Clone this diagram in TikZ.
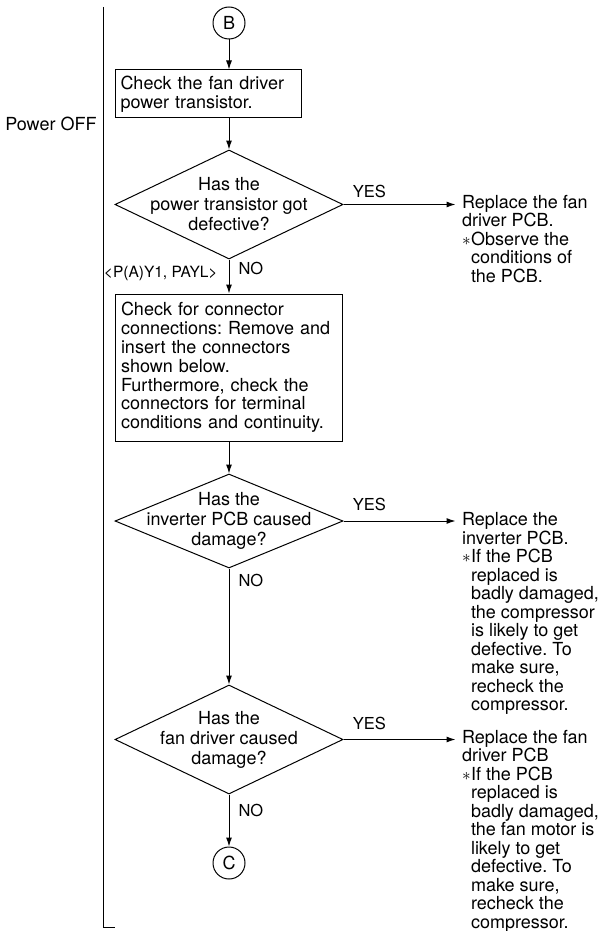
\documentclass[tikz,border=0pt]{standalone}
\usepackage{fontspec}
\setmainfont{TeX Gyre Heros}
\usepackage{tikz}
\usetikzlibrary{arrows.meta,positioning,shapes.geometric}
\newcommand{\astmark}{\makebox[9pt][l]{\fontsize{18}{18}\selectfont$\ast$}}
\newcommand{\indt}{\hspace*{9pt}}
\frenchspacing

\begin{document}
\begin{tikzpicture}[x=1pt,y=-1pt,line width=1pt,
  every node/.style={font=\fontsize{18}{18.8}\selectfont},
  conn/.style={draw,circle,minimum size=32pt,inner sep=0pt},
  box/.style={draw,align=left,inner xsep=5.5pt,inner ysep=0pt},
  decision/.style={draw,diamond,inner sep=0pt,minimum width=228pt},
  qtext/.style={align=center,inner sep=0pt,font=\fontsize{18}{20}\selectfont},
  lbl/.style={font=\fontsize{16.5}{17}\selectfont,inner sep=0pt},
  model/.style={font=\fontsize{15.5}{16}\selectfont,inner sep=0pt},
  note/.style={align=left,inner xsep=6pt,inner ysep=0pt,font=\fontsize{18}{18.5}\selectfont},
  arr/.style={-{Latex[length=9pt,width=6pt]}}]
\useasboundingbox (0,0) rectangle (603,931);
% power off bracket
\coordinate (top) at (103,7);
\coordinate (bot) at (103,927);
\draw (top) -- (bot) -- ++(12,0);
\node[anchor=east,inner sep=0pt] (poff) at (97,124) {Power OFF};
% main flow
\node[conn] (B) at (229,23) {B};
\node[box,text width=175pt,minimum height=48pt,below=30pt of B,xshift=-21pt] (b1) {Check the fan driver\\power transistor.};
\node[decision,minimum height=109pt,below=31pt of b1,xshift=21pt,label={[qtext]center:{Has the\\power transistor got\\defective?}}] (d1) {};
\node[box,text width=216pt,minimum height=147pt,below=34pt of d1] (b2) {Check for connector\\connections: Remove and\\insert the connectors\\shown below.\\Furthermore, check the\\connectors for terminal\\conditions and continuity.};
\node[decision,minimum height=94pt,below=32pt of b2,label={[qtext]center:{Has the\\inverter PCB caused\\damage?}}] (d2) {};
\node[decision,minimum height=109pt,below=116pt of d2,label={[qtext]center:{Has the\\fan driver caused\\damage?}}] (d3) {};
\node[conn,below=52pt of d3] (C) {C};
% results
\node[note,right=112pt of d1.east,anchor=north west,yshift=10pt] (r1) {Replace the fan\\driver PCB.\\\astmark Observe the\\\indt conditions of\\\indt the PCB.};
\node[note,right=112pt of d2.east,anchor=north west,yshift=9pt] (r2) {Replace the\\inverter PCB.\\\astmark If the PCB\\\indt replaced is\\\indt badly damaged,\\\indt the compressor\\\indt is likely to get\\\indt defective. To\\\indt make sure,\\\indt recheck the\\\indt compressor.};
\node[note,right=112pt of d3.east,anchor=north west,yshift=10pt] (r3) {Replace the fan\\driver PCB\\\astmark If the PCB\\\indt replaced is\\\indt badly damaged,\\\indt the fan motor is\\\indt likely to get\\\indt defective. To\\\indt make sure,\\\indt recheck the\\\indt compressor.};
% connectors
\draw[arr] (B) -- (B |- b1.north);
\draw[arr] (b1.south -| d1) -- (d1.north);
\draw[arr] (d1) -- (b2) node[lbl,pos=0.26,right=9pt] {NO} node[model,pos=0.41,left=11pt] {<P(A)Y1, PAYL>};
\draw[arr] (b2) -- (d2);
\draw[arr] (d2) -- (d3) node[lbl,pos=0.1,right=9pt] {NO};
\draw[arr] (d3) -- (C) node[lbl,pos=0.31,right=9pt] {NO};
\draw[arr] (d1.east) -- (d1.east -| r1.west) node[lbl,pos=0.23,above=6pt] {YES};
\draw[arr] (d2.east) -- (d2.east -| r2.west) node[lbl,pos=0.23,above=10pt] {YES};
\draw[arr] (d3.east) -- (d3.east -| r3.west) node[lbl,pos=0.23,above=9pt] {YES};
\end{tikzpicture}
\end{document}
